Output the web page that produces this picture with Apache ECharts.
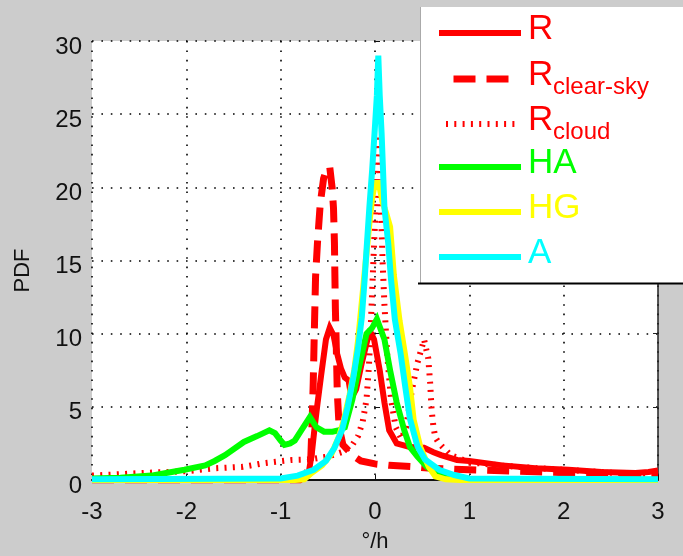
<!DOCTYPE html>
<html>
<head>
<meta charset="utf-8">
<script src="https://cdn.jsdelivr.net/npm/echarts@6/dist/echarts.min.js"></script>
<style>
  html, body { margin: 0; padding: 0; background: #cccccc; }
  #chart { width: 683px; height: 556px; }
</style>
</head>
<body>
<div id="chart"></div>
<script>
// Axis ticks
const xTicks = [-3, -2, -1, 0, 1, 2, 3];
const yTicks = [0, 5, 10, 15, 20, 25, 30];

// R (all conditions)
const rX = [-3.0, -0.80, -0.74, -0.70, -0.67, -0.64, -0.61, -0.57, -0.52, -0.48, -0.44, -0.40, -0.36, -0.32, -0.28, -0.25, -0.20, -0.14, -0.08, -0.04, -0.01, 0.05, 0.10, 0.15, 0.23, 0.37, 0.52, 0.62, 0.70, 0.87, 1.0, 1.35, 1.7, 2.05, 2.4, 2.76, 2.9, 3.0];
const rY = [0, 0, 0.2, 0.6, 1.8, 3.6, 5.2, 7.2, 9.6, 10.4, 9.9, 8.6, 7.6, 7.0, 6.8, 5.6, 6.2, 8.0, 9.6, 10.0, 9.6, 7.5, 5.3, 3.4, 2.5, 2.25, 2.2, 1.9, 1.7, 1.37, 1.3, 1.0, 0.8, 0.7, 0.55, 0.48, 0.55, 0.65];

// R, clear-sky
const csX = [-3.0, -0.80, -0.74, -0.70, -0.68, -0.665, -0.655, -0.645, -0.63, -0.61, -0.58, -0.545, -0.51, -0.48, -0.455, -0.44, -0.43, -0.425, -0.42, -0.41, -0.40, -0.38, -0.34, -0.28, -0.22, -0.15, 0.0, 0.15, 0.42, 0.6, 1.0, 1.5, 2.0, 2.5, 3.0];
const csY = [0, 0, 0.3, 0.8, 1.6, 4.3, 6.6, 9.6, 13.9, 16.2, 18.9, 20.6, 21.3, 21.4, 20.0, 18.6, 16.2, 13.9, 11.7, 9.0, 6.0, 3.6, 2.4, 2.0, 1.6, 1.3, 1.1, 1.0, 0.9, 0.8, 0.7, 0.6, 0.5, 0.45, 0.4];

// R, cloud
const clX = [-3.0, -2.4, -2.0, -1.7, -1.4, -1.17, -0.88, -0.7, -0.5, -0.35, -0.25, -0.18, -0.13, -0.09, -0.065, -0.045, -0.02, 0.01, 0.035, 0.06, 0.08, 0.10, 0.13, 0.17, 0.22, 0.28, 0.33, 0.39, 0.45, 0.52, 0.565, 0.585, 0.60, 0.62, 0.64, 0.68, 0.8, 1.0, 1.5, 2.0, 2.5, 3.0];
const clY = [0.3, 0.5, 0.6, 0.8, 0.9, 1.16, 1.37, 1.4, 1.6, 1.9, 2.3, 3.0, 4.0, 5.5, 7.7, 10.5, 14.5, 19.1, 23.6, 19.1, 15.0, 12.0, 8.5, 5.5, 3.6, 2.8, 3.6, 6.1, 8.0, 9.6, 8.3, 6.6, 4.8, 3.6, 2.9, 2.5, 1.7, 1.2, 0.9, 0.7, 0.5, 0.4];

// HA
const haX = [-3.0, -2.7, -2.37, -2.2, -2.02, -1.8, -1.7, -1.59, -1.5, -1.39, -1.25, -1.12, -1.06, -1.0, -0.96, -0.9, -0.85, -0.78, -0.69, -0.62, -0.54, -0.45, -0.38, -0.32, -0.24, -0.17, -0.09, -0.03, 0.02, 0.10, 0.16, 0.23, 0.31, 0.37, 0.45, 0.55, 0.69, 0.87, 1.2, 3.0];
const haY = [0.1, 0.15, 0.3, 0.5, 0.7, 1.0, 1.3, 1.7, 2.1, 2.6, 3.0, 3.4, 3.2, 2.7, 2.4, 2.5, 2.7, 3.4, 4.3, 3.6, 3.3, 3.3, 3.4, 3.6, 5.5, 7.7, 10.0, 10.4, 11.0, 9.6, 7.5, 5.3, 3.4, 2.25, 1.6, 0.9, 0.34, 0.1, 0.02, 0.02];

// HG
const hgX = [-3.0, -0.85, -0.75, -0.67, -0.56, -0.46, -0.38, -0.33, -0.27, -0.22, -0.18, -0.15, -0.12, -0.09, -0.06, -0.03, 0.0, 0.04, 0.08, 0.12, 0.16, 0.20, 0.26, 0.32, 0.37, 0.41, 0.48, 0.57, 0.64, 0.75, 0.9, 3.0];
const hgY = [0, 0, 0.05, 0.5, 1.0, 1.8, 3.0, 4.1, 5.8, 7.5, 9.5, 11.5, 13.5, 15.5, 17.5, 19.3, 20.3, 20.3, 19.0, 18.2, 17.3, 14.0, 10.9, 8.5, 6.4, 4.1, 2.25, 0.9, 0.25, 0.05, 0, 0];

// A
const aX = [-3.0, -1.0, -0.82, -0.65, -0.52, -0.43, -0.35, -0.29, -0.23, -0.18, -0.14, -0.11, -0.085, -0.06, -0.03, -0.005, 0.02, 0.035, 0.05, 0.07, 0.085, 0.10, 0.14, 0.17, 0.21, 0.27, 0.32, 0.37, 0.45, 0.53, 0.68, 0.84, 1.0, 3.0];
const aY = [0.05, 0.1, 0.3, 0.7, 1.3, 2.2, 3.4, 5.0, 7.0, 9.0, 11.1, 13.7, 16.2, 18.6, 21.2, 23.7, 26.3, 29.0, 26.3, 23.7, 21.2, 18.6, 16.2, 13.7, 11.0, 8.7, 6.4, 4.2, 2.3, 1.4, 0.7, 0.34, 0.1, 0.05];

const zip = (xs, ys) => xs.map((x, i) => [x, ys[i]]);
const FONT = 'Liberation Sans, Arial, Helvetica, sans-serif';
const RED = '#ff0000', GREEN = '#00ff00', YELLOW = '#ffff00', CYAN = '#00ffff';

const seriesDefs = [
  { name: 'R',            color: RED,    width: 6, type: 'solid',  xs: rX,  ys: rY },
  { name: 'R clear-sky',  color: RED,    width: 7, type: [22, 11], xs: csX, ys: csY },
  { name: 'R cloud',      color: RED,    width: 6, type: [2, 6.3], xs: clX, ys: clY },
  { name: 'HA',           color: GREEN,  width: 6, type: 'solid',  xs: haX, ys: haY },
  { name: 'HG',           color: YELLOW, width: 6, type: 'solid',  xs: hgX, ys: hgY },
  { name: 'A',            color: CYAN,   width: 6, type: 'solid',  xs: aX,  ys: aY }
];

const series = seriesDefs.map(d => ({
  name: d.name,
  type: 'line',
  data: zip(d.xs, d.ys),
  symbol: 'none',
  showSymbol: false,
  animation: false,
  silent: true,
  lineStyle: { color: d.color, width: d.width, type: d.type, cap: 'butt', join: 'miter' },
  itemStyle: { color: d.color },
  z: 2
}));

// Legend rows: one legend per entry so each key line sits at its own height;
// the labels (with subscripts) are drawn as text next to the key lines.
const legendRows = [
  { name: 'R',           left: 436, width: 82, cy: 33,  main: 'R',  sub: '',          color: RED },
  { name: 'R clear-sky', left: 450, width: 55, cy: 79,  main: 'R',  sub: 'clear-sky', color: RED },
  { name: 'R cloud',     left: 443, width: 72, cy: 124, main: 'R',  sub: 'cloud',     color: RED },
  { name: 'HA',          left: 436, width: 82, cy: 167, main: 'HA', sub: '',          color: GREEN },
  { name: 'HG',          left: 436, width: 82, cy: 212, main: 'HG', sub: '',          color: YELLOW },
  { name: 'A',           left: 436, width: 82, cy: 257, main: 'A',  sub: '',          color: CYAN }
];
const LABEL_X = 528;
const SUB_X = 553;

const legends = legendRows.map(row => {
  const def = seriesDefs.find(d => d.name === row.name);
  return {
    show: true,
    z: 60,
    left: row.left,
    top: row.cy - def.width / 2,
    orient: 'vertical',
    padding: 0,
    itemWidth: row.width,
    itemHeight: def.width,
    selectedMode: false,
    data: [row.name],
    itemStyle: { color: 'rgba(0,0,0,0)', borderWidth: 0, opacity: 0 },
    lineStyle: { color: def.color, width: def.width, type: def.type, dashOffset: 0, cap: 'butt' },
    formatter: () => '',
    textStyle: { fontSize: 1 }
  };
});

const legendLabels = [];
legendRows.forEach(row => {
  legendLabels.push({
    type: 'text', z: 61, left: LABEL_X, top: row.cy - 21.5,
    style: { text: row.main, fill: row.color, font: '35px ' + FONT }
  });
  if (row.sub) {
    legendLabels.push({
      type: 'text', z: 61, left: SUB_X, top: row.cy - 4,
      style: { text: row.sub, fill: row.color, font: '24px ' + FONT }
    });
  }
});

const chart = echarts.init(document.getElementById('chart'), null, { renderer: 'canvas' });

const gridLine = { show: true, lineStyle: { color: '#000', width: 1.6, type: [1.6, 7.8] } };
const tickFont = { fontSize: 24, color: '#111', fontFamily: FONT };

const frame = [
  { type: 'rect', z: 50, shape: { x: 420, y: 7, width: 280, height: 276 },
    style: { fill: '#ffffff', stroke: null } },
  { type: 'line', z: 51, shape: { x1: 420.5, y1: 7, x2: 420.5, y2: 283 },
    style: { stroke: '#aaaaaa', lineWidth: 1 } },
  { type: 'line', z: 51, shape: { x1: 418, y1: 283.5, x2: 683, y2: 283.5 },
    style: { stroke: '#000000', lineWidth: 2 } }
];

chart.setOption({
  backgroundColor: '#cccccc',
  animation: false,
  textStyle: { fontFamily: FONT },
  grid: { left: 92, right: 25, top: 41, bottom: 76, show: true, backgroundColor: '#ffffff', borderWidth: 0,
          containLabel: false, outerBoundsMode: 'none' },
  xAxis: [{
    type: 'value', min: xTicks[0], max: xTicks[xTicks.length - 1], interval: 1,
    name: '°/h', nameLocation: 'middle', nameGap: 51,
    nameTextStyle: { fontSize: 22, color: '#111', fontFamily: FONT },
    axisLine: { show: true, onZero: false, lineStyle: { color: '#111', width: 2 } },
    axisTick: { show: true, inside: true, length: 5, lineStyle: { color: '#111' } },
    axisLabel: Object.assign({ margin: 20 }, tickFont),
    splitLine: gridLine
  }],
  yAxis: [{
    type: 'value', min: yTicks[0], max: yTicks[yTicks.length - 1], interval: 5,
    name: 'PDF', nameLocation: 'middle', nameGap: 58, nameRotate: 90,
    nameTextStyle: { fontSize: 22, color: '#111', fontFamily: FONT, padding: [0, 20, 0, 0] },
    axisLine: { show: false },
    axisTick: { show: true, inside: true, length: 5, lineStyle: { color: '#111' } },
    axisLabel: Object.assign({ margin: 10, verticalAlign: 'top', lineHeight: 12 }, tickFont),
    splitLine: gridLine
  }, {
    type: 'value', position: 'right', min: yTicks[0], max: yTicks[yTicks.length - 1], interval: 5,
    axisLine: { show: true, lineStyle: { color: '#222', width: 1.5 } },
    axisTick: { show: true, inside: true, length: 5, lineStyle: { color: '#222' } },
    axisLabel: { show: false },
    splitLine: { show: false }
  }],
  legend: legends,
  graphic: frame.concat(legendLabels),
  series: series
});
</script>
</body>
</html>
